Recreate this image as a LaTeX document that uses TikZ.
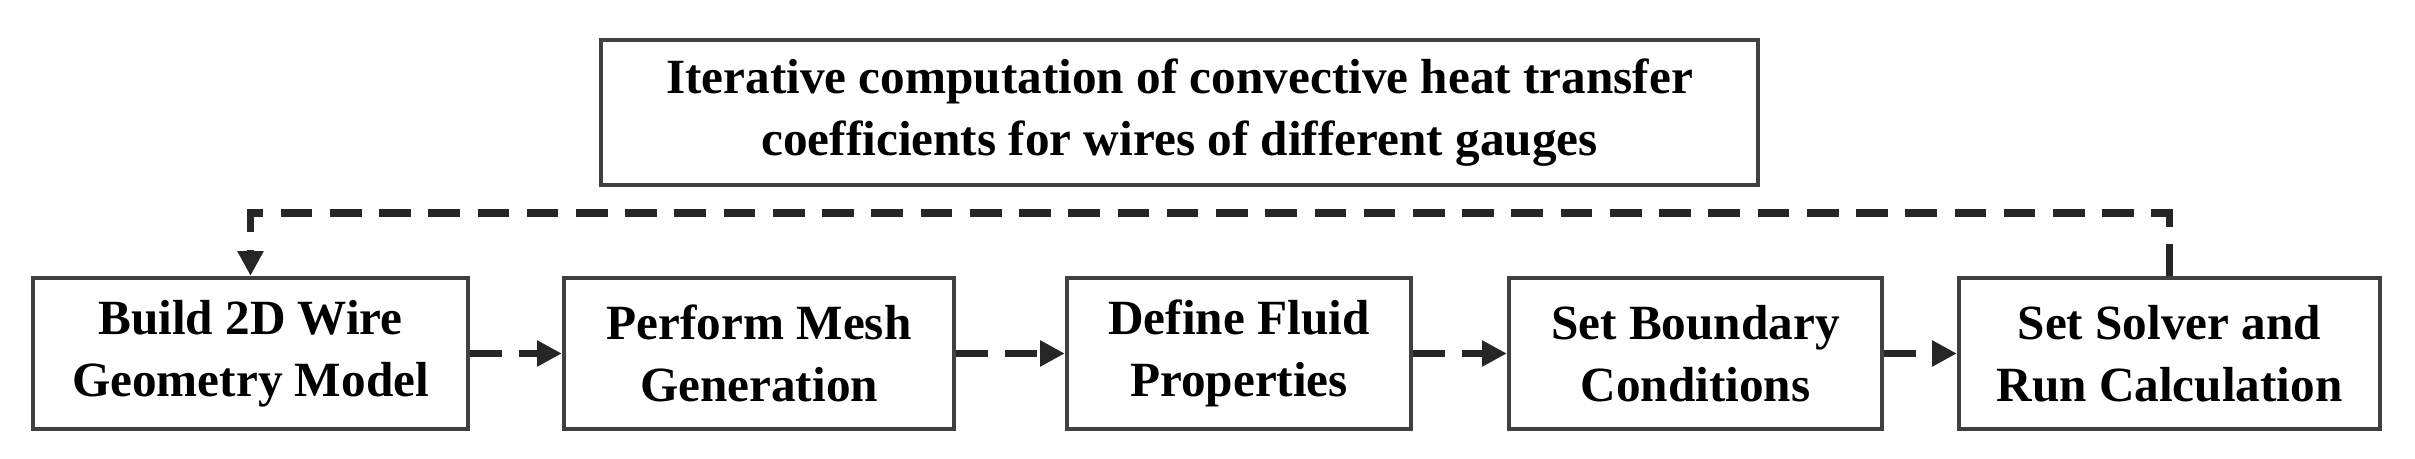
\documentclass[tikz,border=0pt]{standalone}
\usepackage{fontspec}
\setmainfont{Liberation Serif}
\usetikzlibrary{arrows.meta}
\begin{document}
\begin{tikzpicture}[x=0.01cm,y=-0.01cm,
  box/.style={draw=black!75,line width=1.2pt,align=center,font=\fontsize{14}{17.5}\selectfont\bfseries,inner sep=0pt},
  flow/.style={draw=black!85,line width=2pt,dash pattern=on 9pt off 5pt,-{Triangle[length=7pt,width=7pt]}}]
\useasboundingbox (0,0) rectangle (2415,459);
\node[box,minimum width=11.57cm,minimum height=1.45cm] (top) at (1179.5,112.5) {Iterative computation of convective heat transfer\\coefficients for wires of different gauges};
\node[box,minimum width=4.35cm,minimum height=1.51cm] (b1) at (250.5,353.5) {Build 2D Wire\\Geometry Model};
\node[box,minimum width=3.90cm,minimum height=1.51cm] (b2) at (759,353.5) {Perform Mesh\\Generation};
\node[box,minimum width=3.44cm,minimum height=1.51cm] (b3) at (1239,353.5) {Define Fluid\\Properties};
\node[box,minimum width=3.73cm,minimum height=1.51cm] (b4) at (1695.5,353.5) {Set Boundary\\Conditions};
\node[box,minimum width=4.21cm,minimum height=1.51cm] (b5) at (2169.5,353.5) {Set Solver and\\Run Calculation};
\coordinate (c1) at (2169.5,213);
\coordinate (c2) at (250.5,213);
\draw[flow] (b1) -- (b2);
\draw[flow] (b2) -- (b3);
\draw[flow] (b3) -- (b4);
\draw[flow] (b4) -- (b5);
\draw[flow] (b5.north) -- (c1) -- (c2) -- (b1.north);
\end{tikzpicture}
\end{document}
